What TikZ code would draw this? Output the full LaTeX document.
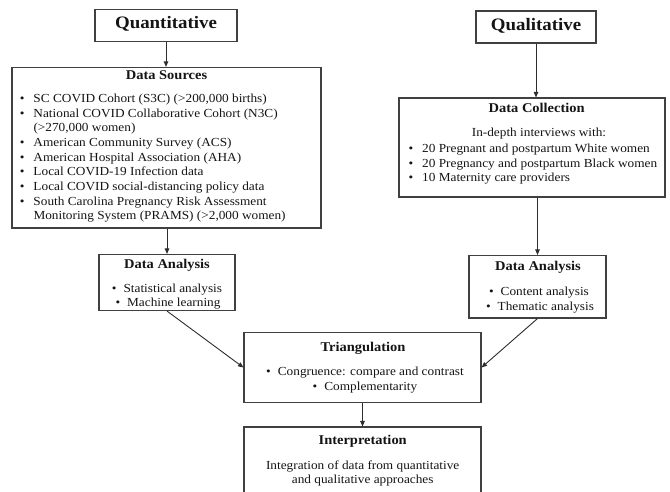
\documentclass[tikz,border=0pt]{standalone}
\usepackage{fontspec}
\setmainfont{Liberation Serif}[FakeStretch=1.08]
\usetikzlibrary{arrows.meta}
\definecolor{linec}{HTML}{404040}
\definecolor{txt}{HTML}{141414}
\tikzset{
  box/.style={draw=linec, line width=1.1pt, rectangle, inner sep=0pt},
  conn/.style={draw=linec!70!black, line width=0.9pt, -{Triangle[length=5.5pt,width=4.5pt]}},
  body/.style={font=\fontsize{12.3}{14}\selectfont, text=txt, inner sep=0pt},
  lbody/.style={body, anchor=mid west},
  cbody/.style={body, anchor=mid},
  head/.style={font=\bfseries\fontsize{13.4}{15}\selectfont, text=txt, inner sep=0pt, anchor=mid},
  ttl/.style={font=\bfseries\fontsize{17.5}{20}\selectfont, text=txt, inner sep=0pt, anchor=mid},
}
\newcommand\bul{\llap{\textbullet\hspace{9pt}}}
\newcommand\cbul{\textbullet\hspace{7pt}}
\begin{document}
\begin{tikzpicture}[x=1pt,y=-1pt]
\useasboundingbox (0,0) rectangle (670,491);
% boxes
\node[box, minimum width=142pt, minimum height=32pt] (qnt) at (166,25.5) {};
\node[box, minimum width=309pt, minimum height=160.5pt] (ds) at (166.5,147.75) {};
\node[box, minimum width=136pt, minimum height=56pt] (da1) at (167,282.5) {};
\node[box, minimum width=120pt, minimum height=32pt] (qlt) at (536,27) {};
\node[box, minimum width=266pt, minimum height=99pt] (dc) at (532,147.5) {};
\node[box, minimum width=137pt, minimum height=62.5pt] (da2) at (537.5,286.75) {};
\node[box, minimum width=237pt, minimum height=70pt] (tri) at (362.5,367.5) {};
\node[box, minimum width=237pt, minimum height=90pt] (intp) at (362.5,472) {};
% titles
\node[ttl] (tqnt) at (166,26) {Quantitative};
\node[ttl] (tqlt) at (536,28) {Qualitative};
% data sources
\node[head] (hds) at (166.5,77) {Data Sources};
\node[lbody] (ds1) at (33.3,100.5) {\bul SC COVID Cohort (S3C) (>200,000 births)};
\node[lbody] (ds2) at (33.3,115.1) {\bul National COVID Collaborative Cohort (N3C)};
\node[lbody] (ds3) at (33.3,129.7) {(>270,000 women)};
\node[lbody] (ds4) at (33.3,144.3) {\bul American Community Survey (ACS)};
\node[lbody] (ds5) at (33.3,158.9) {\bul American Hospital Association (AHA)};
\node[lbody] (ds6) at (33.3,173.5) {\bul Local COVID-19 Infection data};
\node[lbody] (ds7) at (33.3,188.1) {\bul Local COVID social-distancing policy data};
\node[lbody] (ds8) at (33.3,202.7) {\bul South Carolina Pregnancy Risk Assessment};
\node[lbody] (ds9) at (33.3,217.3) {Monitoring System (PRAMS) (>2,000 women)};
% data analysis left
\node[head] (hda1) at (167,266) {Data Analysis};
\node[cbody] (da1a) at (167,290) {\cbul Statistical analysis};
\node[cbody] (da1b) at (168,304.5) {\cbul Machine learning};
% data collection
\node[head] (hdc) at (536.7,110) {Data Collection};
\node[cbody] (dci) at (539,134.5) {In-depth interviews with:};
\node[lbody] (dc1) at (422,150.5) {\bul 20 Pregnant and postpartum White women};
\node[lbody] (dc2) at (422,165) {\bul 20 Pregnancy and postpartum Black women};
\node[lbody] (dc3) at (422,179.5) {\bul 10 Maternity care providers};
% data analysis right
\node[head] (hda2) at (538,268.5) {Data Analysis};
\node[cbody] (da2a) at (539,293) {\cbul Content analysis};
\node[cbody] (da2b) at (540,308) {\cbul Thematic analysis};
% triangulation
\node[head] (htri) at (363,349) {Triangulation};
\node[cbody] (tria) at (365,373) {\cbul Congruence: compare and contrast};
\node[cbody] (trib) at (365,388) {\cbul Complementarity};
% interpretation
\node[head] (hint) at (362.7,442) {Interpretation};
\node[cbody] (int1) at (362.7,467.5) {Integration of data from quantitative};
\node[cbody] (int2) at (362.7,481.5) {and qualitative approaches};
% connectors
\draw[conn] (qnt.south) -- (qnt.south |- ds.north);
\draw[conn] (da1.north |- ds.south) -- (da1.north);
\draw[conn] (qlt.south) -- (qlt.south |- dc.north);
\draw[conn] (da2.north |- dc.south) -- (da2.north);
\draw[conn] (da1.south) -- (tri.west);
\draw[conn] (da2.south) -- (tri.east);
\draw[conn] (tri.south) -- (intp.north);
\end{tikzpicture}
\end{document}
